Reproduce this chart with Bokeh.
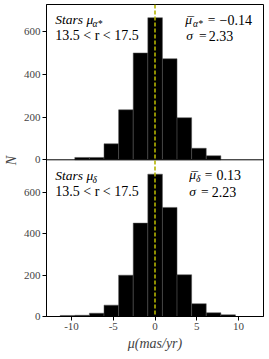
from bokeh.plotting import figure
from bokeh.models import Range1d, Span, Label, FixedTicker
from bokeh.embed import file_html
from bokeh.resources import INLINE

# ---- data ----
edges_bottom = [-11.36, -9.61, -7.86, -6.11, -4.36, -2.61, -0.86, 0.89, 2.64, 4.39, 6.14, 7.89, 9.64]
counts_bottom = [5, 6, 16, 55, 200, 452, 689, 528, 202, 62, 18, 8]          # mu_delta
edges_top = [-9.61, -7.86, -6.11, -4.36, -2.61, -0.86, 0.89, 2.64, 4.39, 6.14, 7.89]
counts_top = [11, 11, 75, 234, 500, 665, 473, 197, 54, 19]                  # mu_alpha*
x_ticks = [-10, -5, 0, 5, 10]
x_tick_labels = ["-10", "-5", "0", "5", "10"]
y_ticks = [0, 200, 400, 600]
mean_line = 0.0

# ---- layout constants (page pixels) ----
W, H = 269, 359
FL, FR, FT, FB = 41, 263, 4, 316     # frame edges
FM = 159.3                           # divider between panels
KB, KT = 4.84, 4.68                  # counts per pixel, lower / upper panel
X0, X1 = -13, 13
FONT = "Liberation Serif"

OFF = (FB - FM) * KB                 # divider in lower-panel units
Y_END = (FB - FT) * KB
TOP_START = -(FB - FM) * KT
TOP_END = (FM - FT) * KT

def dx(px):
    return X0 + (px - FL) * (X1 - X0) / (FR - FL)

def dy(py):
    return (FB - py) * KB

p = figure(width=W, height=H, output_backend="svg", toolbar_location=None,
           x_range=Range1d(X0, X1), y_range=Range1d(0, Y_END),
           min_border_left=FL, min_border_right=W - FR, min_border_top=FT,
           min_border_bottom=H - FB)
p.extra_y_ranges = {"top": Range1d(TOP_START, TOP_END)}
p.grid.visible = False
p.outline_line_color = "black"
p.outline_line_width = 1
p.background_fill_color = "white"
p.border_fill_color = "white"

# bars
p.quad(left=edges_bottom[:-1], right=edges_bottom[1:], bottom=0, top=counts_bottom,
       fill_color="black", line_color="#555555", line_width=0.5)
p.quad(left=edges_top[:-1], right=edges_top[1:], bottom=0, top=counts_top,
       y_range_name="top",
       fill_color="black", line_color="#555555", line_width=0.5)

# divider and mean line
p.add_layout(Span(location=OFF, dimension="width", line_color="black", line_width=1))
p.add_layout(Span(location=mean_line, dimension="height", line_color="#b3b300",
                  line_dash="4 2", line_width=1.6))

# axes
p.xaxis.ticker = FixedTicker(ticks=x_ticks)
p.xaxis.major_label_overrides = {t: l for t, l in zip(x_ticks, x_tick_labels)}
top_pos = [round(OFF + t * KB / KT, 3) for t in y_ticks]
p.yaxis.ticker = FixedTicker(ticks=y_ticks + top_pos)
overrides = {t: str(t) for t in y_ticks}
overrides.update({pos: str(t) for pos, t in zip(top_pos, y_ticks)})
p.yaxis.major_label_overrides = overrides
for ax in (p.xaxis[0], p.yaxis[0]):
    ax.major_tick_in = 0
    ax.major_tick_out = 4
    ax.minor_tick_line_color = None
    ax.major_label_text_font = FONT
    ax.major_label_text_font_size = "11px"
    ax.major_label_standoff = 2
    ax.axis_line_color = "black"
    ax.major_tick_line_color = "black"
    ax.axis_label_text_font = FONT
    ax.axis_label_text_font_style = "italic"
    ax.axis_label_text_font_size = "14px"
p.xaxis.axis_label = "μ(mas/yr)"
p.xaxis.axis_label_standoff = 3
p.yaxis.axis_label = "N"
p.yaxis.axis_label_standoff = 2

def lab(px, py, text, size="13.5px", style="normal", yo=0):
    p.add_layout(Label(x=dx(px), y=dy(py), text=text, y_offset=yo,
                       text_font=FONT, text_font_size=size, text_font_style=style,
                       text_baseline="middle", text_align="left",
                       text_color="black"))

SUB = "9.5px"
# upper panel texts
lab(50, 19, "Stars μ", style="italic")
lab(88, 19, "α*", size=SUB, style="italic", yo=-4)
lab(50, 35, "13.5 < r < 17.5", size="14px")
lab(183, 19, "μ", style="italic")
lab(184, 21, "¯", style="italic")
lab(191, 19, "α*", size=SUB, style="italic", yo=-4)
lab(206, 19, "=")
lab(218, 19, "−0.14", size="14px")
lab(184, 35, "σ", style="italic")
lab(197, 35, "=")
lab(207, 35, "2.33", size="14px")

# lower panel texts
lab(50, 175, "Stars μ", style="italic")
lab(88, 175, "δ", size=SUB, style="italic", yo=-4)
lab(50, 191, "13.5 < r < 17.5", size="14px")
lab(187, 174, "μ", style="italic")
lab(188, 176, "¯", style="italic")
lab(194, 174, "δ", size=SUB, style="italic", yo=-4)
lab(203, 174, "=")
lab(215, 174, "0.13", size="14px")
lab(187, 191, "σ", style="italic")
lab(199, 191, "=")
lab(210, 191, "2.23", size="14px")

open("out.html", "w").write(file_html(p, INLINE))
